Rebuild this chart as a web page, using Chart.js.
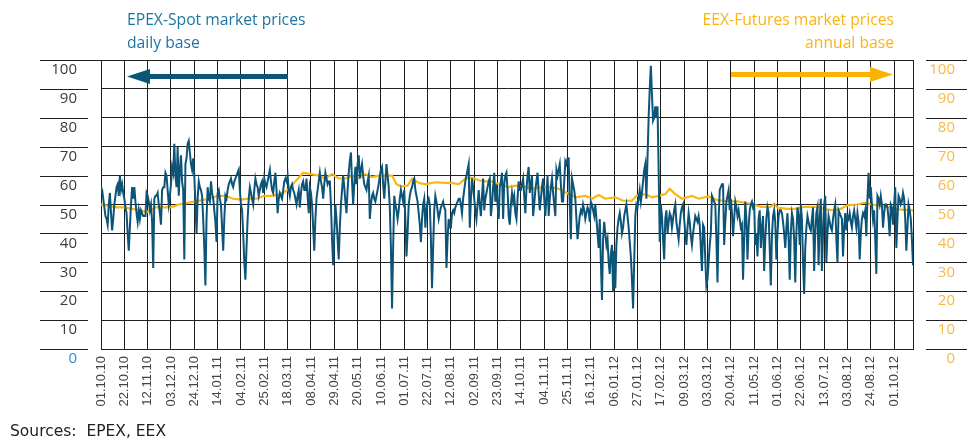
<!DOCTYPE html>
<html lang="en">
<head>
<meta charset="UTF-8">
<title>EPEX-Spot vs EEX-Futures market prices</title>
<script src="https://cdn.jsdelivr.net/npm/chart.js"></script>
<style>
  body { margin: 0; background: #fff; }
  .wrap { position: relative; width: 967px; height: 441px; overflow: hidden; }
  canvas { position: absolute; left: 0; top: 0; }
  .note { position: absolute; font-family: 'Open Sans', sans-serif; font-size: 15.7px; line-height: 23px; white-space: nowrap; }
  .spot { left: 127px; top: 8px; color: #1f74a3; }
  .fut { right: 73px; top: 8px; color: #fbb414; text-align: right; }
  .src { left: 10px; top: 422px; font-family: 'DejaVu Sans', sans-serif; font-size: 15.5px; line-height: 18px; color: #222; }
</style>
</head>
<body>
<div class="wrap">
  <canvas id="prices" width="967" height="441"></canvas>
  <div class="note spot">EPEX-Spot market prices<br>daily base</div>
  <div class="note fut">EEX-Futures market prices<br>annual base</div>
  <div class="note src">Sources:&nbsp; EPEX, EEX</div>
</div>
<script>
// x tick labels, one every 21 days starting 01.10.10 (as printed on the original)
const tickLabels = ['01.10.10','22.10.10','12.11.10','03.12.10','24.12.10','14.01.11','04.02.11','25.02.11',
  '18.03.11','08.04.11','29.04.11','20.05.11','10.06.11','01.07.11','22.07.11','12.08.11','02.09.11',
  '23.09.11','14.10.11','04.11.11','25.11.11','16.12.11','06.01.12','27.01.12','17.02.12','09.03.12',
  '03.03.12','20.04.12','11.05.12','01.06.12','22.06.12','13.07.12','03.08.12','24.08.12','01.10.12'];

// EPEX spot, daily base, one value per day from 01.10.10 (EUR/MWh)
const spotPrices = [
  56,55,52,49,46,45,43,50,54,47,41,45,50,53,56,57,53,60,55,57,54,
  52,49,47,40,34,42,50,56,52,56,51,47,44,48,45,48,47,46,46,46,54,
  53,51,48,50,44,28,52,53,53,54,50,47,43,55,56,56,61,60,55,50,53,
  57,63,61,71,60,56,70,53,62,67,58,55,31,64,66,71,72,68,64,62,66,
  60,50,40,52,58,56,55,53,45,35,22,45,56,52,51,58,54,52,48,44,37,
  54,55,52,50,42,34,45,53,52,55,57,58,59,57,56,58,59,60,61,62,55,
  50,48,40,30,24,35,45,52,56,54,52,50,55,59,57,56,53,55,57,58,54,
  59,57,56,58,60,62,58,55,54,58,61,55,47,52,54,53,52,55,58,59,58,
  60,55,53,56,57,55,54,52,50,53,55,49,54,57,58,55,55,59,53,47,56,
  54,50,42,34,45,52,55,58,61,58,56,52,57,61,59,57,58,58,50,38,29,
  40,50,45,38,31,42,50,55,60,56,51,47,55,61,65,68,58,50,57,63,57,
  64,67,59,62,64,60,57,56,55,58,60,45,50,53,54,52,51,53,55,57,60,
  62,63,57,52,58,64,60,56,49,35,14,35,53,50,48,45,48,52,55,53,51,
  55,45,32,40,50,53,55,56,58,59,55,53,51,47,43,37,45,50,52,42,48,
  51,52,50,38,21,35,48,53,51,48,45,47,49,50,51,49,48,28,38,45,42,
  42,47,48,47,49,50,51,52,52,50,47,52,55,58,60,62,64,42,52,59,56,
  52,48,45,50,55,50,46,53,59,48,52,54,56,58,59,46,50,56,61,51,57,
  50,45,56,58,61,45,57,60,61,55,46,43,50,54,51,53,47,45,52,58,55,
  55,57,59,53,47,55,60,63,54,57,60,46,50,55,58,61,54,48,52,56,59,
  52,46,53,60,46,52,56,59,54,50,46,62,60,62,64,57,51,51,58,65,64,
  66,66,50,38,59,57,55,52,45,38,42,46,48,47,50,48,45,47,49,48,44,
  51,50,48,46,50,45,40,35,45,30,17,38,44,40,36,38,30,26,33,36,20,
  34,21,36,42,45,47,44,40,42,46,48,50,46,42,37,32,24,14,30,46,50,
  49,52,55,51,54,58,62,64,52,66,80,90,98,88,79,80,84,80,84,62,37,
  50,46,38,31,45,48,40,44,47,46,42,45,48,50,44,41,38,43,47,49,50,
  45,40,36,42,47,44,39,36,40,43,46,45,44,46,43,35,27,43,42,31,22,
  24,30,36,40,53,52,51,50,38,23,45,55,56,57,57,36,44,51,53,55,48,
  52,47,39,45,51,49,46,48,45,42,43,24,38,51,45,31,42,48,50,51,49,
  50,36,40,32,45,48,35,42,46,27,38,45,49,47,35,22,39,46,48,44,31,
  40,46,48,48,47,44,40,35,42,47,38,24,40,47,45,38,23,40,49,46,36,
  50,45,30,19,35,42,46,44,42,41,45,49,27,40,47,49,29,45,52,27,40,
  50,53,30,40,46,44,42,41,45,48,50,38,30,48,47,46,45,32,42,47,41,
  46,45,47,44,42,46,48,45,42,47,44,31,40,45,47,46,48,39,52,61,52,
  56,50,45,48,38,26,53,52,50,53,50,42,47,50,50,49,45,39,50,49,43,
  50,56,35,45,53,52,50,51,54,52,45,34,42,50,48,45,38,29
];

// EEX futures, annual base: day index (from 01.10.10) and price
const futuresDays = [
  0,7,14,21,28,35,42,49,56,63,70,77,84,91,98,105,112,119,126,133,140,147,154,161,168,175,182,189,
  196,202,208,214,220,226,232,238,244,250,256,262,266,270,276,280,286,292,301,310,316,322,328,334,
  340,346,352,358,367,373,382,388,397,403,412,418,427,436,442,448,454,463,470,478,482,490,496,502,
  508,512,517,523,532,538,547,555,564,573,579,588,594,603,606,609,618,627,633,645,652,660,666,672,
  681,687,693,699,711,717,731
];
const futuresPrices = [
  50,49.5,49,49,48.5,48,47.5,49,49,49,50,50.5,51,51.5,52,53,53,52,51.7,52,52,53,53,53.5,55,58,61,60.5,
  60,59,60.5,59,59,60,59,60.5,59.5,60,60,60,57,56.3,56.5,59,57.5,57,57.7,57.5,57.5,57,59,59.3,
  58.4,58,58,57,56,56.5,56,55.4,56,56.2,55.4,54.2,52.5,53,52,53.3,52,52.5,51.3,51.3,53,53.6,52.5,53,
  53.6,55.4,53.6,52,53,52,52.8,51.5,51.1,51.1,50.6,50,49.2,49.2,50.3,48.9,48.5,48.5,49.2,49.2,48.3,48,48.5,49.7,
  50,50.6,50,49.7,48.9,48.3,48
];

const GRID = '#1e1e1e';

// short level lines beside the plot and the two direction arrows
const decorations = {
  id: 'decorations',
  afterDraw(chart) {
    const c = chart.ctx;
    const y = chart.scales.y;
    c.save();
    c.strokeStyle = GRID;
    c.lineWidth = 1;
    for (let v = 0; v <= 100; v += 10) {
      const py = Math.round(y.getPixelForValue(v)) + 0.5;
      c.beginPath();
      c.moveTo(40, py); c.lineTo(v === 100 ? chart.chartArea.left : 88, py);
      c.moveTo(926, py); c.lineTo(967, py);
      c.stroke();
    }
    // left arrow (spot)
    c.fillStyle = '#0b5577';
    c.fillRect(148, 74, 140, 5);
    c.beginPath(); c.moveTo(127, 76.5); c.lineTo(150, 69); c.lineTo(150, 84); c.closePath(); c.fill();
    // right arrow (futures)
    c.fillStyle = '#f9b300';
    c.fillRect(731, 72, 141, 5);
    c.beginPath(); c.moveTo(893, 74.5); c.lineTo(870, 67); c.lineTo(870, 82); c.closePath(); c.fill();
    c.restore();
  }
};

new Chart(document.getElementById('prices'), {
  type: 'line',
  data: {
    datasets: [
      {
        label: 'EPEX-Spot daily base',
        data: spotPrices.map((v, i) => ({ x: i, y: v })),
        borderColor: '#0d5578',
        borderWidth: 2,
        pointRadius: 0,
        tension: 0,
        yAxisID: 'y'
      },
      {
        label: 'EEX-Futures annual base',
        data: futuresDays.map((d, i) => ({ x: d, y: futuresPrices[i] })),
        borderColor: '#fbb612',
        borderWidth: 2.2,
        pointRadius: 0,
        tension: 0,
        yAxisID: 'y2'
      }
    ]
  },
  options: {
    responsive: false,
    animation: false,
    devicePixelRatio: 1,
    layout: { padding: { top: 60, right: 12, left: 0, bottom: 0 } },
    plugins: { legend: { display: false }, tooltip: { enabled: false } },
    scales: {
      x: {
        type: 'linear',
        min: 0,
        max: spotPrices.length - 1,
        afterFit: s => { s.height = 92; },
        afterBuildTicks: s => { s.ticks = tickLabels.map((t, i) => ({ value: i * 21 })); },
        ticks: {
          autoSkip: false,
          minRotation: 90,
          maxRotation: 90,
          padding: 7,
          color: '#444',
          font: { family: 'Liberation Sans', size: 13 },
          callback: (v, i) => tickLabels[i]
        },
        grid: { color: GRID, drawTicks: false },
        border: { color: GRID }
      },
      y: {
        position: 'left',
        min: 0,
        max: 100,
        afterFit: s => { s.width = 101; },
        ticks: {
          stepSize: 10,
          padding: 24,
          labelOffset: 10,
          color: ctx => ctx.tick.value === 0 ? '#2b8fd6' : '#3b3b3b',
          font: { family: 'Open Sans', size: 15 }
        },
        grid: { color: GRID, drawTicks: false },
        border: { color: GRID }
      },
      y2: {
        position: 'right',
        min: 0,
        max: 100,
        afterFit: s => { s.width = 42; },
        ticks: {
          stepSize: 10,
          padding: 0,
          labelOffset: 10,
          crossAlign: 'far',
          color: '#fbb944',
          font: { family: 'Open Sans', size: 15 }
        },
        grid: { display: false, drawTicks: false },
        border: { display: true, color: GRID }
      }
    }
  },
  plugins: [decorations]
});
</script>
</body>
</html>
